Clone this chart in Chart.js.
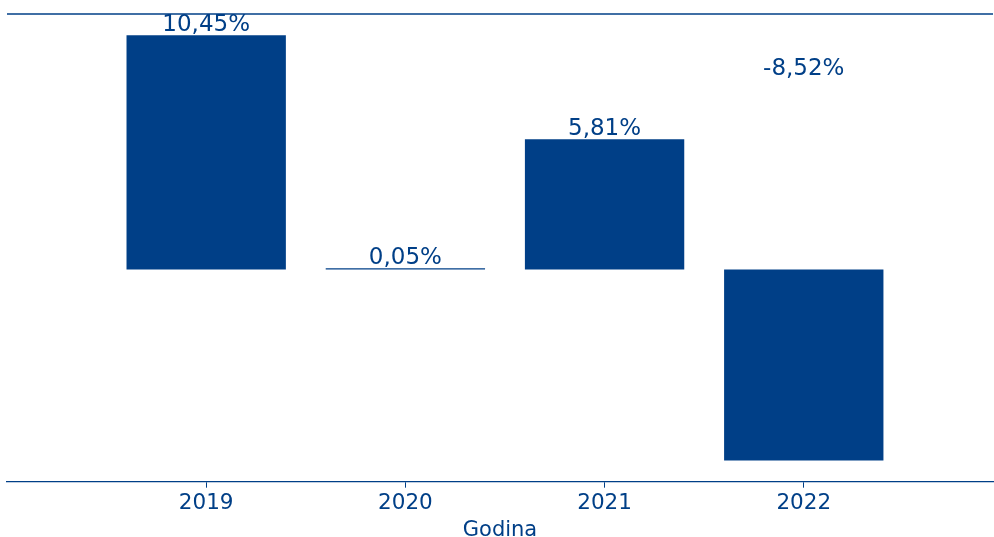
<!DOCTYPE html>
<html>
<head>
<meta charset="utf-8">
<script src="https://cdn.jsdelivr.net/npm/chart.js@4.4.1/dist/chart.umd.min.js"></script>
<style>
  html, body { margin: 0; padding: 0; background: #fff; }
  #wrap { width: 994px; height: 537px; }
</style>
</head>
<body>
<div id="wrap"><canvas id="c" width="994" height="537"></canvas></div>
<script>
// 数据
const years = ["2019", "2020", "2021", "2022"];
const growth = [10.45, 0.05, 5.81, -8.52];
const axisTitle = "Godina";

const BLUE = "#003f87";
const FONT = "'DejaVu Sans', sans-serif";

function fmtPct(v) {
  return v.toFixed(2).replace(".", ",") + "%";
}

// 柱顶标签 + 上边框
const labelsPlugin = {
  id: "barLabels",
  afterDatasetsDraw(chart) {
    const ctx = chart.ctx;
    const y = chart.scales.y;
    const meta = chart.getDatasetMeta(0);
    ctx.save();
    ctx.fillStyle = BLUE;
    ctx.font = "23px " + FONT;
    ctx.textAlign = "center";
    ctx.textBaseline = "alphabetic";
    meta.data.forEach((bar, i) => {
      const py = y.getPixelForValue(Math.abs(growth[i]));
      ctx.fillText(fmtPct(growth[i]), bar.x, py - 4);
    });
    const a = chart.chartArea;
    ctx.strokeStyle = BLUE;
    ctx.lineWidth = 1.3;
    ctx.beginPath();
    ctx.moveTo(a.left, a.top);
    ctx.lineTo(a.right, a.top);
    ctx.stroke();
    ctx.restore();
  },
};

new Chart(document.getElementById("c"), {
  type: "bar",
  data: {
    datasets: [{
      data: growth.map((v, i) => ({ x: i, y: v })),
      backgroundColor: BLUE,
      borderColor: BLUE,
      borderWidth: 0,
      barPercentage: 0.8,
      categoryPercentage: 1.0,
      minBarLength: 1,
    }],
  },
  options: {
    responsive: false,
    animation: false,
    layout: { padding: { top: 14, left: 7, right: 1, bottom: 0 } },
    scales: {
      x: {
        type: "linear",
        offset: false,
        min: -1,
        max: 3.95,
        afterBuildTicks(axis) {
          axis.ticks = years.map((_, i) => ({ value: i }));
        },
        ticks: {
          color: BLUE,
          font: { family: FONT, size: 21.5, lineHeight: 1.0 },
          padding: 5,
          callback: (v) => years[v] ?? "",
        },
        grid: {
          offset: false,
          drawOnChartArea: false,
          drawTicks: true,
          tickLength: 6,
          color: BLUE,
        },
        border: { display: true, color: BLUE, width: 1.3 },
        title: {
          display: true,
          text: axisTitle,
          color: BLUE,
          font: { family: FONT, size: 21, lineHeight: 0.6 },
          padding: { top: 5.2, bottom: 0 },
        },
      },
      y: {
        display: false,
        min: -9.47,
        max: 11.4,
      },
    },
    plugins: {
      legend: { display: false },
      tooltip: { enabled: false },
    },
  },
  plugins: [labelsPlugin],
});
</script>
</body>
</html>
